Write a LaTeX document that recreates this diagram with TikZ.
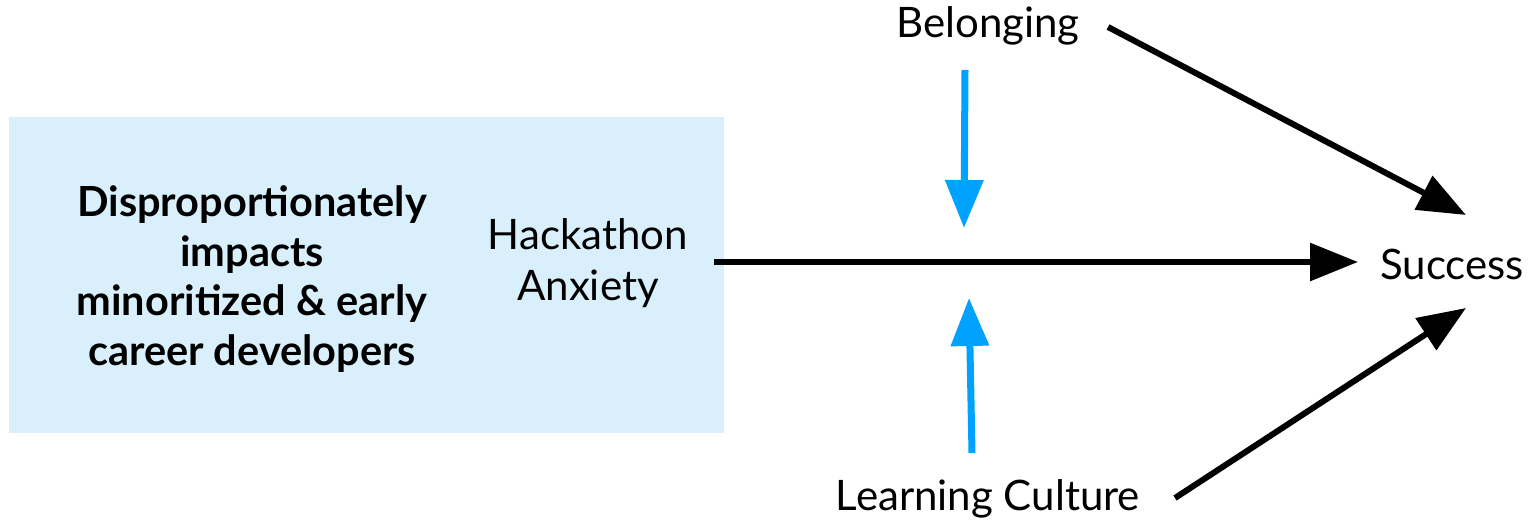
\documentclass[tikz,border=0pt]{standalone}
\usepackage{fontspec}
\setmainfont{Lato}
\usetikzlibrary{arrows.meta}
\definecolor{boxblue}{HTML}{D9F0FC}
\definecolor{arrblue}{HTML}{00A2FF}
\begin{document}
\begin{tikzpicture}[x=1pt,y=-1pt,
  lbl/.style={inner sep=0pt,font=\fontsize{42}{51}\selectfont,align=center},
  blk/.style={line width=6pt,-{Triangle[length=48pt,width=37pt]}},
  blu/.style={line width=7pt,arrblue,-{Triangle[length=48pt,width=37pt]}}]
\useasboundingbox (0,0) rectangle (1540,522);
\node[fill=boxblue,minimum width=715pt,minimum height=316pt,inner sep=0pt,anchor=north west] (box) at (9,117) {};
\node[lbl,font=\fontsize{41.5}{49.5}\selectfont\bfseries] (dis) at (252,279) {Disproportionately\\impacts\\minoritized \& early\\career developers};
\node[lbl] (hack) at (588,263) {Hackathon\\Anxiety};
\node[lbl] (bel) at (988,26) {Belonging};
\node[lbl] (succ) at (1452,264) {Success};
\node[lbl] (lc) at (988,499) {Learning Culture};
\coordinate (ms) at (714,262);
\coordinate (me) at (1358,262);
\coordinate (bs) at (1108,27);
\coordinate (be) at (1466,215);
\coordinate (ls) at (1175,498);
\coordinate (le) at (1466,308);
\coordinate (ds) at (965,70);
\coordinate (de) at (964,228);
\coordinate (us) at (972,453);
\coordinate (ue) at (969,298);
\draw[blk] (ms) -- (me);
\draw[blk] (bs) -- (be);
\draw[blk] (ls) -- (le);
\draw[blu] (ds) -- (de);
\draw[blu] (us) -- (ue);
\end{tikzpicture}
\end{document}
